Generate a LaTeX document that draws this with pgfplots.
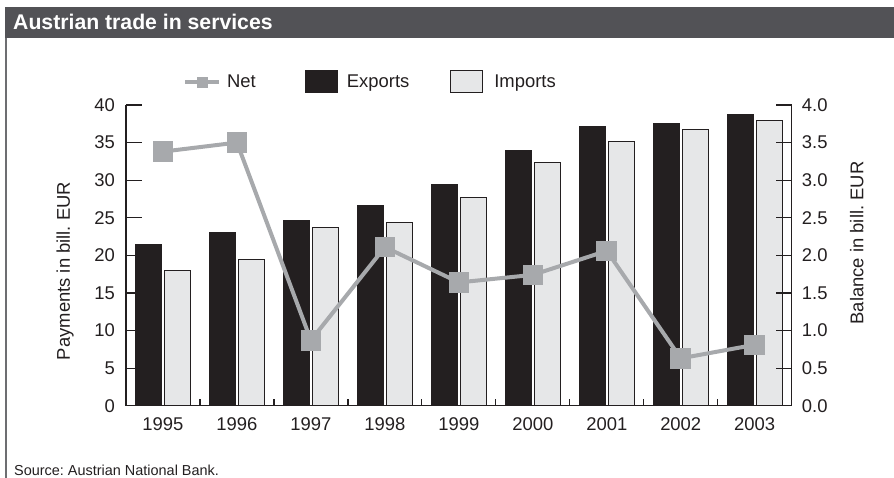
\documentclass[border=0pt]{standalone}
\usepackage{fontspec}
\setmainfont{Liberation Sans}
\usepackage{pgfplots}
\pgfplotsset{compat=1.18}
\frenchspacing
\definecolor{titlebar}{HTML}{525256}
\definecolor{netgray}{HTML}{A7A9AC}
\definecolor{expcol}{HTML}{231F20}
\definecolor{impcol}{HTML}{E6E7E8}
\definecolor{axcol}{HTML}{231F20}
\definecolor{bordergray}{HTML}{6D6E71}
\begin{document}
\frenchspacing
\begin{tikzpicture}
\path[use as bounding box] (0bp,0bp) rectangle (894bp,478bp);
\fill[titlebar] (5bp,440.3bp) rectangle (894bp,471.3bp);
\node[anchor=base west, inner sep=0pt, text=white, font=\fontsize{21.3}{25}\selectfont\bfseries] at (13bp,448.7bp) {Austrian trade in services};
\draw[bordergray, line width=1.5bp] (5.75bp,0bp) -- (5.75bp,440.3bp);
\node[anchor=base west, inner sep=0pt, font=\fontsize{14.5}{17}\selectfont, text=axcol] at (14bp,3bp) {Source: Austrian National Bank.};

\begin{axis}[
  at={(126bp,72.3bp)}, anchor=south west,
  scale only axis, width=665.7bp, height=300.7bp,
  xmin=-0.5, xmax=8.5, ymin=0, ymax=40,
  axis x line*=bottom, axis y line*=left,
  axis line style={axcol, line width=1.2bp},
  tick align=inside,
  xtick={0,1,2,3,4,5,6,7,8},
  xticklabels={1995,1996,1997,1998,1999,2000,2001,2002,2003},
  major x tick style={draw=none},
  minor xtick={0.5,1.5,2.5,3.5,4.5,5.5,6.5,7.5},
  minor tick length=7bp,
  major tick length=16bp,
  ytick={0,5,10,15,20,25,30,35,40},
  tick style={axcol, line width=1.2bp},
  /pgf/number format/assume math mode=true,
  tick label style={font=\fontsize{18.5}{22}\selectfont, text=axcol, inner sep=0pt},
  yticklabel style={xshift=-11bp},
  xticklabel style={yshift=-12bp},
  ylabel={Payments in bill. EUR},
  every axis y label/.style={at={(rel axis cs:-0.0916,0.448)}, rotate=90, anchor=center, font=\fontsize{18.5}{22}\selectfont, text=axcol},
  legend columns=3,
  legend style={at={(0.0856,1.0765)}, anchor=west, draw=none, fill=none, inner sep=0pt, column sep=0pt,
    font=\fontsize{18.5}{22}\selectfont, nodes={inner sep=0pt, text=axcol}},
  legend cell align=left,
]
\addlegendimage{legend image code/.code={
  \draw[netgray, line width=4bp] (0bp,0bp) -- (34bp,0bp);
  \fill[netgray] (12bp,-5bp) rectangle (22bp,5bp);
  \path[draw=none, fill=none] (0bp,0bp) -- (42bp,0bp);
}}
\addplot[ybar, bar width=26bp, bar shift=-14.5bp, fill=expcol, draw=expcol, line width=1bp,
  legend image code/.code={
    \path[draw=none, fill=none] (-50bp,0bp) -- (41bp,0bp);
    \fill[expcol] (0bp,-11bp) rectangle (32bp,11bp);
  }] coordinates {
  (0,21.4) (1,23.1) (2,24.6) (3,26.6) (4,29.4) (5,34.0) (6,37.2) (7,37.55) (8,38.75)
};
\addplot[ybar, bar width=26bp, bar shift=14.5bp, fill=impcol, draw=expcol, line width=1bp,
  legend image code/.code={
    \path[draw=none, fill=none] (-41bp,0bp) -- (44bp,0bp);
    \filldraw[fill=impcol, draw=expcol, line width=1bp] (0bp,-11bp) rectangle (32bp,11bp);
  }] coordinates {
  (0,18.0) (1,19.5) (2,23.7) (3,24.4) (4,27.7) (5,32.3) (6,35.1) (7,36.8) (8,37.9)
};
\legend{Net,Exports,Imports}
\end{axis}

\begin{axis}[
  at={(126bp,72.3bp)}, anchor=south west,
  scale only axis, width=665.7bp, height=300.7bp,
  xmin=-0.5, xmax=8.5, ymin=0, ymax=4,
  axis x line=none, axis y line*=right,
  axis line style={axcol, line width=1.2bp},
  tick align=inside,
  major tick length=16bp,
  ytick={0,0.5,1,1.5,2,2.5,3,3.5,4},
  tick style={axcol, line width=1.2bp},
  /pgf/number format/assume math mode=true,
  tick label style={font=\fontsize{18.5}{22}\selectfont, text=axcol, inner sep=0pt},
  yticklabel style={xshift=10bp, /pgf/number format/.cd, fixed, fixed zerofill, precision=1},
  ylabel={Balance in bill. EUR},
  every axis y label/.style={at={(rel axis cs:1.0976,0.541)}, rotate=90, anchor=center, font=\fontsize{18.5}{22}\selectfont, text=axcol},
]
\addplot[netgray, line width=4bp, mark=square*, mark size=8.3bp, mark options={draw=none, fill=netgray}] coordinates {
  (0,3.38) (1,3.50) (2,0.87) (3,2.11) (4,1.64) (5,1.74) (6,2.06) (7,0.63) (8,0.81)
};
\end{axis}
\end{tikzpicture}
\end{document}
